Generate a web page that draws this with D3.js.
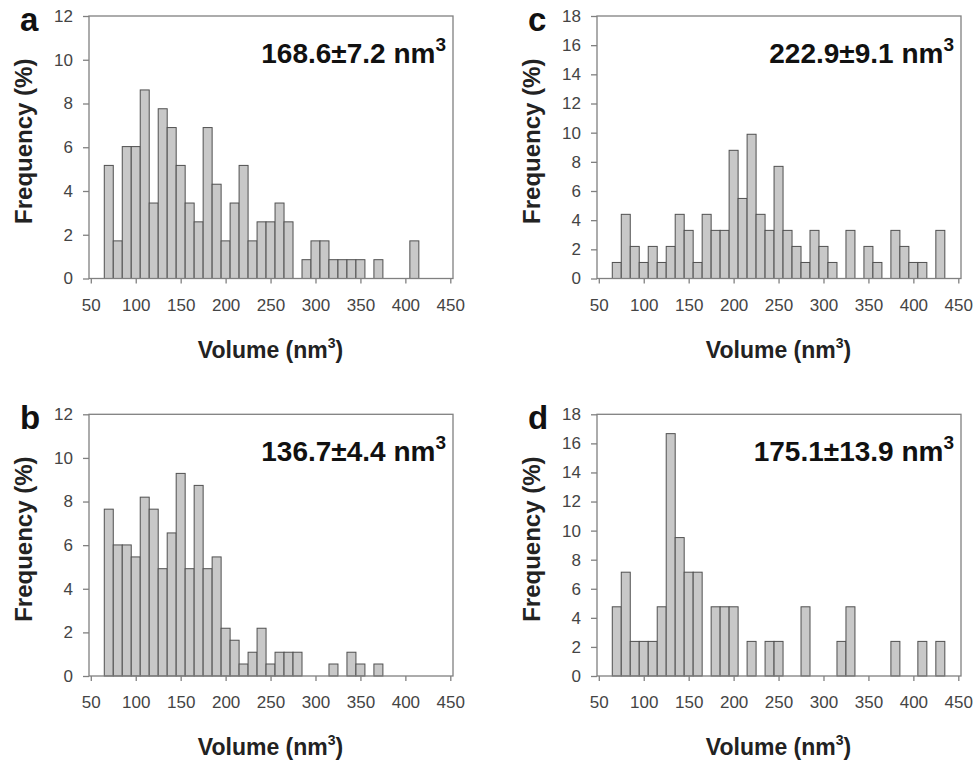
<!DOCTYPE html>
<html>
<head>
<meta charset="utf-8">
<script src="https://cdn.jsdelivr.net/npm/d3@7"></script>
<style>
  body { margin: 0; background: #fff; }
  svg { display: block; font-family: "Liberation Sans", Arial, sans-serif; }
</style>
</head>
<body>
<div id="chart"></div>
<script>
// Bin centres (nm^3), bins are 10 wide
const bins = [70, 80, 90, 100, 110, 120, 130, 140, 150, 160, 170, 180, 190, 200, 210, 220, 230, 240, 250,
  260, 270, 280, 290, 300, 310, 320, 330, 340, 350, 360, 370, 380, 390, 400, 410, 420, 430];

// Frequency (%) per bin
const freqA = [5.17, 1.72, 6.03, 6.03, 8.62, 3.45, 7.76, 6.90, 5.17, 3.45, 2.59, 6.90, 4.31, 1.72, 3.45, 5.17, 1.72, 2.59, 2.59,
  3.45, 2.59, 0, 0.86, 1.72, 1.72, 0.86, 0.86, 0.86, 0.86, 0, 0.86, 0, 0, 0, 1.72, 0, 0];
const freqB = [7.65, 6.01, 6.01, 5.46, 8.20, 7.65, 4.92, 6.56, 9.29, 4.92, 8.74, 4.92, 5.46, 2.19, 1.64, 0.55, 1.09, 2.19, 0.55,
  1.09, 1.09, 1.09, 0, 0, 0, 0.55, 0, 1.09, 0.55, 0, 0.55, 0, 0, 0, 0, 0, 0];
const freqC = [1.10, 4.40, 2.20, 1.10, 2.20, 1.10, 2.20, 4.40, 3.30, 1.10, 4.40, 3.30, 3.30, 8.79, 5.49, 9.89, 4.40, 3.30, 7.69,
  3.30, 2.20, 1.10, 3.30, 2.20, 1.10, 0, 3.30, 0, 2.20, 1.10, 0, 3.30, 2.20, 1.10, 1.10, 0, 3.30];
const freqD = [4.76, 7.14, 2.38, 2.38, 2.38, 4.76, 16.67, 9.52, 7.14, 7.14, 0, 4.76, 4.76, 4.76, 0, 2.38, 0, 2.38, 2.38,
  0, 0, 4.76, 0, 0, 0, 2.38, 4.76, 0, 0, 0, 0, 2.38, 0, 0, 2.38, 0, 2.38];

const letters = ['a', 'b', 'c', 'd'];
const means = ['168.6±7.2', '136.7±4.4', '222.9±9.1', '175.1±13.9'];
const series = [freqA, freqB, freqC, freqD];
const yMaxes = [12, 12, 18, 18];

const xTicks = [50, 100, 150, 200, 250, 300, 350, 400, 450];
const yTicks12 = [0, 2, 4, 6, 8, 10, 12];
const yTicks18 = [0, 2, 4, 6, 8, 10, 12, 14, 16, 18];

// Plot frames for a, b, c, d
const width = 974;
const height = 763;
const frames = [
  { left: 89, right: 453, top: 16, bottom: 278.5 },
  { left: 89, right: 453, top: 414.3, bottom: 676 },
  { left: 597, right: 961, top: 16, bottom: 278.5 },
  { left: 597, right: 961, top: 414.3, bottom: 676 },
];

const svg = d3.select('#chart')
  .append('svg')
  .attr('width', width)
  .attr('height', height);

function drawPanel(i) {
  const f = frames[i];
  const values = series[i];
  const yMax = yMaxes[i];

  const x = d3.scaleLinear().domain([48, 453]).range([f.left, f.right]);
  const y = d3.scaleLinear().domain([0, yMax]).range([f.bottom, f.top]);

  const g = svg.append('g').attr('class', 'panel');

  // bars
  const barData = bins.map((b, j) => ({ b, v: values[j] })).filter(d => d.v > 0);
  g.append('g')
    .selectAll('rect')
    .data(barData)
    .join('rect')
    .attr('x', d => x(d.b - 5))
    .attr('width', d => x(d.b + 5) - x(d.b - 5))
    .attr('y', d => y(d.v))
    .attr('height', d => y(0) - y(d.v))
    .attr('fill', '#c8c8c8')
    .attr('stroke', '#505050')
    .attr('stroke-width', 1);

  // frame
  g.append('rect')
    .attr('x', f.left)
    .attr('y', f.top)
    .attr('width', f.right - f.left)
    .attr('height', f.bottom - f.top)
    .attr('fill', 'none')
    .attr('stroke', '#808080')
    .attr('stroke-width', 1.3);

  // axes
  const yAxis = d3.axisLeft(y)
    .tickValues(yMax === 12 ? yTicks12 : yTicks18)
    .tickSize(6)
    .tickPadding(10);
  const xAxis = d3.axisBottom(x)
    .tickValues(xTicks)
    .tickSize(5)
    .tickPadding(15);

  const ya = g.append('g').attr('transform', `translate(${f.left},0)`).call(yAxis);
  const xa = g.append('g').attr('transform', `translate(0,${f.bottom})`).call(xAxis);

  [ya, xa].forEach(a => {
    a.select('.domain').remove();
    a.selectAll('.tick line').attr('stroke', '#808080').attr('stroke-width', 1.3);
    a.selectAll('.tick text')
      .attr('fill', '#444')
      .style('font-size', '17px')
      .style('font-family', '"Liberation Sans", Arial, sans-serif');
  });

  // axis titles
  g.append('text')
    .attr('transform', `translate(${f.left - 57},${(f.top + f.bottom) / 2 - 6}) rotate(-90)`)
    .attr('text-anchor', 'middle')
    .style('font-size', '24px')
    .style('font-weight', 'bold')
    .attr('fill', '#222')
    .text('Frequency (%)');

  const xt = g.append('text')
    .attr('x', x(250))
    .attr('y', f.bottom + 79)
    .attr('text-anchor', 'middle')
    .style('font-size', '23px')
    .style('font-weight', 'bold')
    .attr('fill', '#222');
  xt.append('tspan').text('Volume  (nm');
  xt.append('tspan').attr('dy', -10).style('font-size', '14px').text('3');
  xt.append('tspan').attr('dy', 10).text(')');

  // panel letter
  g.append('text')
    .attr('x', f.left - 69)
    .attr('y', f.top + 15)
    .style('font-size', '33px')
    .style('font-weight', 'bold')
    .attr('fill', '#111')
    .text(letters[i]);

  // mean annotation
  const m = g.append('text')
    .attr('x', f.right - 7)
    .attr('y', f.top + 47)
    .attr('text-anchor', 'end')
    .style('font-size', '28px')
    .style('font-weight', 'bold')
    .attr('fill', '#111');
  m.append('tspan').text(means[i] + ' nm');
  m.append('tspan').attr('dy', -12).style('font-size', '19px').text('3');
}

letters.forEach((l, i) => drawPanel(i));
</script>
</body>
</html>
